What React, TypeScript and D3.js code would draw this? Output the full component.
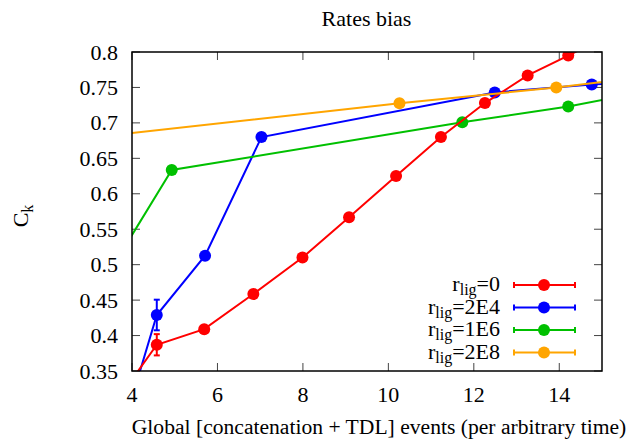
import React from 'react';
import * as d3 from 'd3';

const W = 630, H = 444;
const M = { left: 132, right: 602, top: 52, bottom: 371 };

const xTicks = [4, 6, 8, 10, 12, 14];
const yTicks = [0.35, 0.4, 0.45, 0.5, 0.55, 0.6, 0.65, 0.7, 0.75, 0.8];

// series (points outside the frame are clipped, as in the reference)
const redX = [3.55, 4.58, 5.69, 6.84, 7.99, 9.08, 10.18, 11.23, 12.26, 13.26, 14.21, 15.2];
const redY = [0.30, 0.387, 0.409, 0.4586, 0.510, 0.567, 0.625, 0.680, 0.728, 0.767, 0.795, 0.825];
const redErr = [0, 0.015, 0, 0, 0, 0, 0, 0, 0, 0, 0, 0];

const blueX = [3.94, 4.58, 5.71, 7.03, 12.49, 14.76, 17.0];
const blueY = [0.30, 0.429, 0.5126, 0.680, 0.743, 0.754, 0.762];
const blueErr = [0, 0.0216, 0, 0, 0, 0, 0];

const greenX = [3.5, 4.93, 11.73, 14.21, 16.5];
const greenY = [0.4925, 0.6335, 0.701, 0.723, 0.75];

const orangeX = [2.0, 10.26, 13.93, 16.0];
const orangeY = [0.6723, 0.7276, 0.750, 0.765];

const legendLabels = ['0', '2E4', '1E6', '2E8'];
const colors = ['#ff0000', '#0000ff', '#00c000', '#ffa500'];

const FONT = "'Liberation Serif', 'Times New Roman', 'DejaVu Serif', serif";
const FS = 22;

export default function App() {
  const x = d3.scaleLinear().domain([4, 15]).range([M.left, M.right]);
  const y = d3.scaleLinear().domain([0.35, 0.8]).range([M.bottom, M.top]);
  const line = d3.line<[number, number]>().x(d => x(d[0])).y(d => y(d[1]));

  const series = [
    { xs: redX, ys: redY, err: redErr, color: colors[0] },
    { xs: blueX, ys: blueY, err: blueErr, color: colors[1] },
    { xs: greenX, ys: greenY, err: null as number[] | null, color: colors[2] },
    { xs: orangeX, ys: orangeY, err: null as number[] | null, color: colors[3] },
  ];
  const drawOrder = [1, 2, 0, 3];

  const inRange = (a: number, b: number) => a >= 4 && a <= 15 && b >= 0.35 && b <= 0.8;
  const ts = { fontFamily: FONT } as React.CSSProperties;

  return (
    <svg width={W} height={H} style={{ position: 'absolute', left: 0, top: 0, background: '#fff', fontFamily: FONT }}>
      <defs>
        <clipPath id="plotclip">
          <rect x={M.left} y={M.top} width={M.right - M.left} height={M.bottom - M.top} />
        </clipPath>
      </defs>
      <rect x={0} y={0} width={W} height={H} fill="#fff" />

      {/* ticks */}
      {xTicks.map(t => (
        <g key={'xt' + t}>
          <line x1={x(t)} x2={x(t)} y1={M.bottom} y2={M.bottom - 8} stroke="#444" strokeWidth={1} />
          <line x1={x(t)} x2={x(t)} y1={M.top} y2={M.top + 8} stroke="#444" strokeWidth={1} />
          <text x={x(t)} y={401.5} textAnchor="middle" fontSize={FS} fill="#000" style={ts}>{t}</text>
        </g>
      ))}
      {yTicks.map(t => (
        <g key={'yt' + t}>
          <line x1={M.left} x2={M.left + 8} y1={y(t)} y2={y(t)} stroke="#444" strokeWidth={1} />
          <line x1={M.right} x2={M.right - 8} y1={y(t)} y2={y(t)} stroke="#444" strokeWidth={1} />
          <text x={118} y={y(t) + 7.5} textAnchor="end" fontSize={FS} fill="#000" style={ts}>{String(+t.toFixed(2))}</text>
        </g>
      ))}

      {/* series */}
      <g clipPath="url(#plotclip)">
        {drawOrder.map(i => {
          const s = series[i];
          const pts: [number, number][] = s.xs.map((v, j) => [v, s.ys[j]]);
          return (
            <g key={'s' + i}>
              <path d={line(pts) || ''} fill="none" stroke={s.color} strokeWidth={2} />
              {s.err && pts.map((p, j) => s.err![j] > 0 ? (
                <g key={'e' + j} stroke={s.color} strokeWidth={2}>
                  <line x1={x(p[0])} x2={x(p[0])} y1={y(p[1] - s.err![j])} y2={y(p[1] + s.err![j])} />
                  <line x1={x(p[0]) - 3} x2={x(p[0]) + 3} y1={y(p[1] - s.err![j])} y2={y(p[1] - s.err![j])} />
                  <line x1={x(p[0]) - 3} x2={x(p[0]) + 3} y1={y(p[1] + s.err![j])} y2={y(p[1] + s.err![j])} />
                </g>
              ) : null)}
              {pts.filter(p => inRange(p[0], p[1])).map((p, j) => (
                <circle key={'c' + j} cx={x(p[0])} cy={y(p[1])} r={6} fill={s.color} />
              ))}
            </g>
          );
        })}
      </g>

      {/* frame */}
      <rect x={M.left} y={M.top} width={M.right - M.left} height={M.bottom - M.top} fill="none" stroke="#000" strokeWidth={1.5} />

      {/* legend */}
      {legendLabels.map((lab, i) => {
        const ly = 285 + i * 22.5;
        const c = colors[i];
        return (
          <g key={'lg' + i}>
            <text x={500} y={ly + 6} textAnchor="end" fontSize={FS} fill="#000" style={ts}>
              <tspan>r</tspan>
              <tspan dy={4} fontSize={16}>lig</tspan>
              <tspan dy={-4}>={lab}</tspan>
            </text>
            <g stroke={c} strokeWidth={2}>
              <line x1={514} x2={575} y1={ly} y2={ly} />
              <line x1={514} x2={514} y1={ly - 3} y2={ly + 3} />
              <line x1={575} x2={575} y1={ly - 3} y2={ly + 3} />
            </g>
            <circle cx={544} cy={ly} r={6} fill={c} />
          </g>
        );
      })}

      {/* title & labels */}
      <text x={366.5} y={25.5} textAnchor="middle" fontSize={FS} fill="#000" style={ts}>Rates bias</text>
      <text x={379} y={434} textAnchor="middle" fontSize={21.6} fill="#000" style={ts}>Global [concatenation + TDL] events (per arbitrary time)</text>
      <text transform="translate(28,216) rotate(-90)" textAnchor="middle" fontSize={FS} fill="#000" style={ts}>
        <tspan>C</tspan>
        <tspan dy={5} fontSize={16}>k</tspan>
      </text>
    </svg>
  );
}
